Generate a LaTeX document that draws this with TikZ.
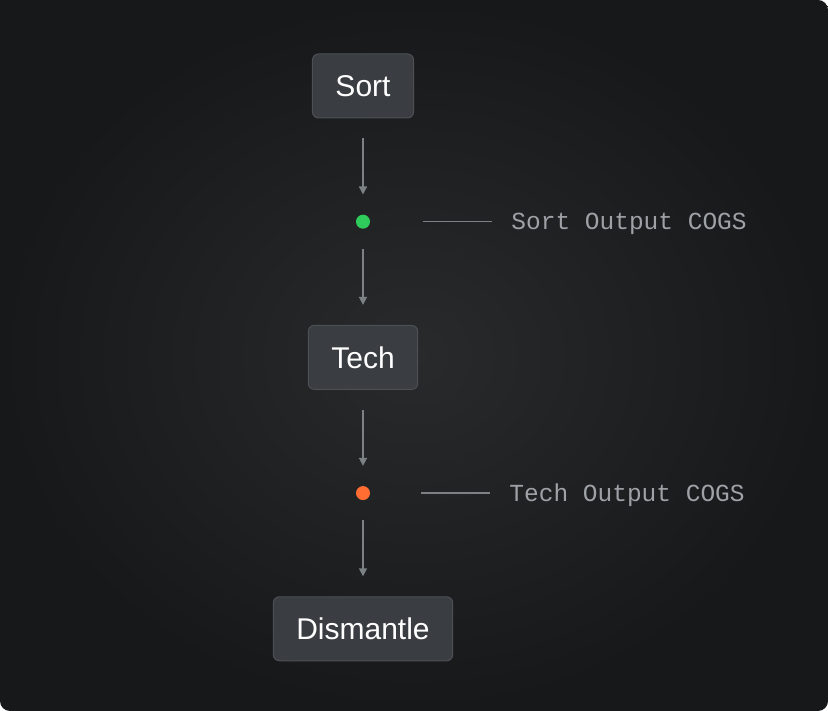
\documentclass[tikz,border=0pt]{standalone}
\usepackage{fontspec}
\setmainfont{Liberation Sans}
\setmonofont{Liberation Mono}
\usetikzlibrary{positioning,arrows.meta}
\definecolor{bgin}{HTML}{282A2C}
\definecolor{bgout}{HTML}{17181A}
\definecolor{boxfill}{HTML}{3A3D41}
\definecolor{boxline}{HTML}{4C5054}
\definecolor{arrowgray}{HTML}{7C8184}
\definecolor{lblgray}{HTML}{9EA2A6}
\definecolor{dotgreen}{HTML}{2FCB5B}
\definecolor{dotorange}{HTML}{FF6D33}

\begin{document}
\begin{tikzpicture}[x=1pt,y=1pt,
  stage/.style={draw=boxline, fill=boxfill, rounded corners=6pt, line width=1pt,
    minimum height=64pt, inner xsep=23pt, text=white, font=\fontsize{30}{36}\selectfont},
  cogsdot/.style={circle, inner sep=0pt, minimum size=14pt},
  flow/.style={-{Triangle[width=8pt,length=8pt]}, arrowgray, line width=1.5pt,
    shorten <=20pt, shorten >=20pt},
  lead/.style={arrowgray, line width=1.5pt, shorten >=19pt},
  cogslbl/.style={inner sep=0pt, text depth=0pt, lblgray,
    font=\ttfamily\fontsize{24.5}{28}\selectfont},
  node distance=96pt]
% background
\fill[white] (0,0) rectangle (828,711);
\shade[inner color=bgin, outer color=bgout, rounded corners=10pt] (0,0) rectangle (828,711);
\fill[bgout] (0,691) rectangle (20,711);
\useasboundingbox (0,0) rectangle (828,711);

% stages
\node[stage] (sort) at (363,625) {Sort};
\node[cogsdot, fill=dotgreen, below=of sort] (sortdot) {};
\node[stage, below=of sortdot] (tech) {Tech};
\node[cogsdot, fill=dotorange, below=of tech] (techdot) {};
\node[stage, below=of techdot] (dismantle) {Dismantle};

\draw[flow] (sort) -- (sortdot);
\draw[flow] (sortdot) -- (tech);
\draw[flow] (tech) -- (techdot);
\draw[flow] (techdot) -- (dismantle);

% cogs labels
\node[cogslbl, right=141pt of sortdot] (sortlbl) {Sort Output COGS};
\coordinate[right=53pt of sortdot] (sortlead);
\draw[lead] (sortlead) -- (sortlbl);

\node[cogslbl, right=139pt of techdot] (techlbl) {Tech Output COGS};
\coordinate[right=51pt of techdot] (techlead);
\draw[lead] (techlead) -- (techlbl);
\end{tikzpicture}
\end{document}
